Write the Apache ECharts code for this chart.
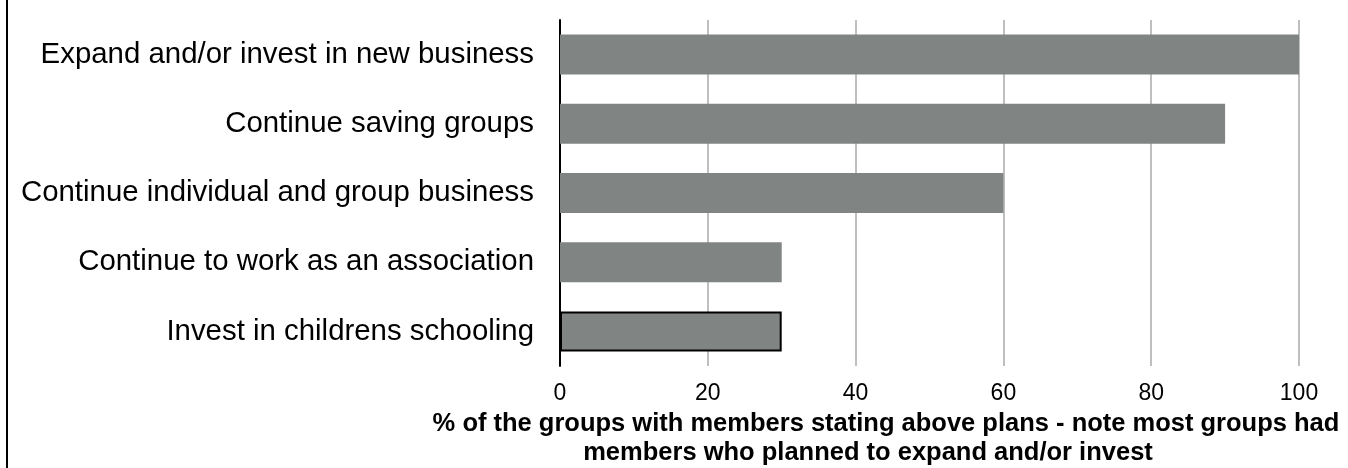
<!DOCTYPE html>
<html>
<head>
<meta charset="utf-8">
<style>
  html, body { margin: 0; padding: 0; background: #fff; }
  #chart { width: 1348px; height: 468px; }
</style>
<script src="https://cdn.jsdelivr.net/npm/echarts@6/dist/echarts.min.js"></script>
</head>
<body>
<div id="chart"></div>
<script>
// Plans reported by groups, listed top to bottom
const categories = [
  'Expand and/or invest in new business',
  'Continue saving groups',
  'Continue individual and group business',
  'Continue to work as an association',
  'Invest in childrens schooling'
];
const percentages = [100, 90, 60, 30, 30];
const xTicks = { min: 0, max: 100, interval: 20 };
const axisTitleLines = [
  '% of the groups with members stating above plans - note most groups had',
  'members who planned to expand and/or invest'
];

const FONT = '"Liberation Sans", Arial, sans-serif';
const BAR = '#808583';

const chart = echarts.init(document.getElementById('chart'), null, { renderer: 'canvas' });

// category axis runs bottom-up, so reverse to keep the first item on top
const yCats = categories.slice().reverse();
const yVals = percentages.slice().reverse().map((v, i) => {
  const item = { value: v };
  if (i === 0) {
    item.itemStyle = { borderColor: '#000', borderWidth: 2 };
  }
  return item;
});

chart.setOption({
  animation: false,
  backgroundColor: '#fff',
  grid: { left: 560, right: 49, top: 20, bottom: 102, containLabel: false },
  xAxis: {
    type: 'value',
    min: xTicks.min,
    max: xTicks.max,
    interval: xTicks.interval,
    axisLine: { show: false },
    axisTick: { show: false },
    axisLabel: { color: '#000', fontFamily: FONT, fontSize: 23, margin: 16 },
    splitLine: { show: true, lineStyle: { color: '#bfbfbf', width: 2 } }
  },
  yAxis: {
    type: 'category',
    data: yCats,
    axisLine: { show: true, lineStyle: { color: '#000', width: 2 } },
    axisTick: { show: false },
    axisLabel: { color: '#000', fontFamily: FONT, fontSize: 29.4, margin: 26 }
  },
  series: [{
    type: 'bar',
    data: yVals,
    barWidth: 40,
    itemStyle: { color: BAR },
    z: 3
  }],
  graphic: [
    {
      type: 'line',
      shape: { x1: 7, y1: 0, x2: 7, y2: 468 },
      style: { stroke: '#000', lineWidth: 2 }
    },
    {
      type: 'text',
      x: 886, y: 411,
      style: {
        text: axisTitleLines[0],
        font: 'bold 25.5px ' + FONT,
        fill: '#000',
        textAlign: 'center',
        textVerticalAlign: 'top'
      }
    },
    {
      type: 'text',
      x: 868, y: 440,
      style: {
        text: axisTitleLines[1],
        font: 'bold 25.5px ' + FONT,
        fill: '#000',
        textAlign: 'center',
        textVerticalAlign: 'top'
      }
    }
  ]
});
</script>
</body>
</html>
